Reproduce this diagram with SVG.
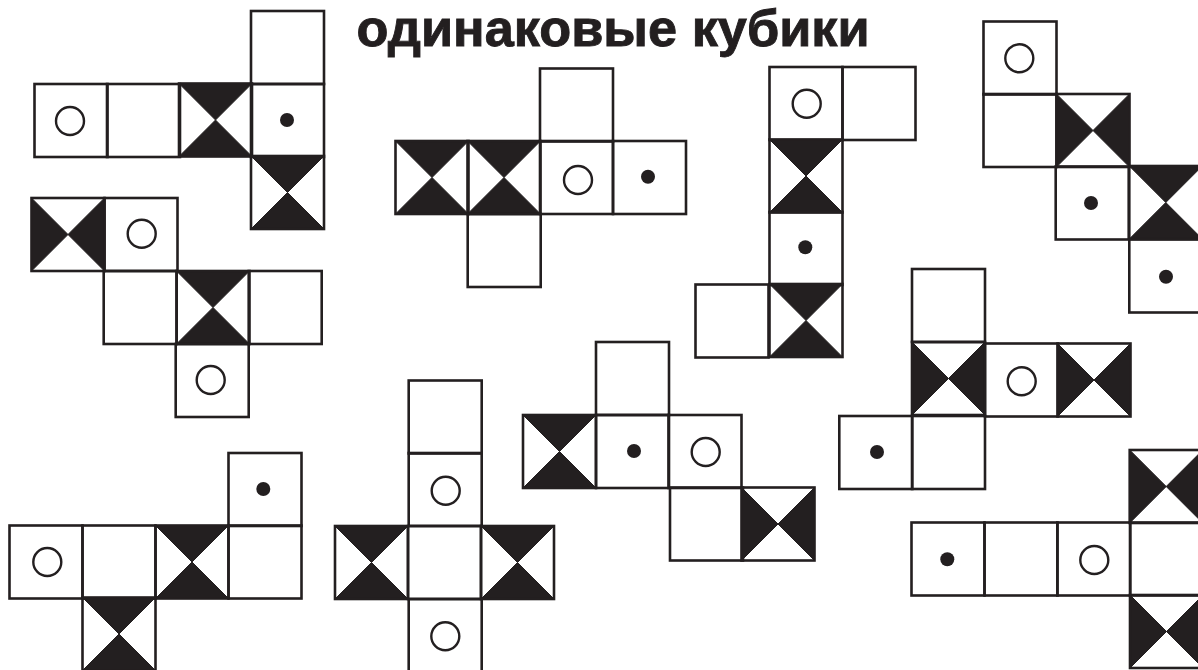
<svg xmlns="http://www.w3.org/2000/svg" xmlns:xlink="http://www.w3.org/1999/xlink" width="1198" height="670" viewBox="0 0 1198 670">
<style>
.c{fill:none;stroke:#231f20;stroke-width:2.6}
.t{fill:#231f20;stroke:#231f20;stroke-width:1}
.o{fill:none;stroke:#231f20;stroke-width:2.4}
.d{fill:#231f20}
.title{font-family:"Liberation Sans",Arial,sans-serif;font-weight:700;font-size:52.3px;fill:#231f20;stroke:#231f20;stroke-width:.9}
</style>
<defs>
<rect id="b" class="c" width="73" height="73"/>
<g id="tb"><path class="t" d="M0 0H73L36.5 36.5ZM0 73H73L36.5 36.5Z"/><rect class="c" width="73" height="73"/></g>
<g id="lr"><path class="t" d="M0 0V73L36.5 36.5ZM73 0V73L36.5 36.5Z"/><rect class="c" width="73" height="73"/></g>
</defs>
<rect width="1198" height="670" fill="#fff"/>
<text class="title" x="356.5" y="46">одинаковые кубики</text>
<g id="net1">
<use href="#b" x="34.5" y="84"/><circle class="o" cx="70" cy="121" r="14"/>
<use href="#b" x="107" y="84"/>
<use href="#tb" x="179" y="83.5"/>
<use href="#b" x="251" y="11"/>
<use href="#b" x="251" y="84"/><circle class="d" cx="287" cy="120" r="7"/>
<use href="#tb" x="251" y="156"/>
</g>
<g id="net2">
<use href="#lr" x="31.5" y="198"/>
<use href="#b" x="104.5" y="198"/><circle class="o" cx="141.7" cy="233.7" r="14"/>
<use href="#b" x="103.7" y="271"/>
<use href="#tb" x="176.5" y="271"/>
<use href="#b" x="248.7" y="271"/>
<use href="#b" x="175.7" y="344"/><circle class="o" cx="210.7" cy="380" r="14"/>
</g>
<g id="net3">
<use href="#tb" x="395.5" y="141"/>
<use href="#tb" x="467.5" y="141"/>
<use href="#b" x="540" y="68.5"/>
<use href="#b" x="540" y="141"/><circle class="o" cx="578" cy="180" r="14"/>
<use href="#b" x="613" y="141"/><circle class="d" cx="648" cy="176.7" r="7"/>
<use href="#b" x="467.7" y="214"/>
</g>
<g id="net4">
<use href="#b" x="769.5" y="67"/><circle class="o" cx="806.7" cy="103.7" r="14"/>
<use href="#b" x="842.5" y="67"/>
<use href="#tb" x="769.5" y="139.5"/>
<use href="#b" x="769.5" y="212"/><circle class="d" cx="805.3" cy="247.3" r="7"/>
<use href="#tb" x="769.5" y="284"/>
<use href="#b" x="695.5" y="284.5"/>
</g>
<g id="net5">
<use href="#b" x="983.5" y="21.5"/><circle class="o" cx="1019.3" cy="58.3" r="14"/>
<use href="#b" x="983.5" y="94"/>
<use href="#lr" x="1056.5" y="94"/>
<use href="#b" x="1055.7" y="166.5"/><circle class="d" cx="1091" cy="203" r="7"/>
<use href="#tb" x="1129.3" y="166"/>
<use href="#b" x="1129.3" y="239.5"/><circle class="d" cx="1166" cy="276.7" r="7"/>
</g>
<g id="net6">
<use href="#b" x="912" y="269"/>
<use href="#lr" x="912" y="342"/>
<use href="#b" x="985" y="343.5"/><circle class="o" cx="1021.7" cy="381.3" r="14"/>
<use href="#lr" x="1057.5" y="343.5"/>
<use href="#b" x="839.3" y="416"/><circle class="d" cx="877" cy="452" r="7"/>
<use href="#b" x="912" y="416"/>
</g>
<g id="net7">
<use href="#tb" x="523" y="415"/>
<use href="#b" x="596" y="342"/>
<use href="#b" x="596" y="415"/><circle class="d" cx="634" cy="451" r="7"/>
<use href="#b" x="668.5" y="415"/><circle class="o" cx="705.7" cy="452" r="14"/>
<use href="#b" x="670" y="487.5"/>
<use href="#lr" x="741.5" y="487.5"/>
</g>
<g id="net8">
<use href="#b" x="9.5" y="525.5"/><circle class="o" cx="47.3" cy="562" r="14"/>
<use href="#b" x="82.5" y="525.5"/>
<use href="#tb" x="155.5" y="525.5"/>
<use href="#b" x="228.5" y="525.5"/>
<use href="#b" x="228.5" y="453"/><circle class="d" cx="263.3" cy="489" r="7"/>
<use href="#tb" x="82.5" y="597.5"/>
</g>
<g id="net9">
<use href="#b" x="408.7" y="380.5"/>
<use href="#b" x="408.7" y="453"/><circle class="o" cx="445.7" cy="490.7" r="14"/>
<use href="#tb" x="335" y="526"/>
<use href="#b" x="408" y="526"/>
<use href="#tb" x="481" y="526"/>
<use href="#b" x="408.7" y="599"/><circle class="o" cx="445.3" cy="636.3" r="14"/>
</g>
<g id="net10">
<use href="#lr" x="1129.7" y="450"/>
<use href="#b" x="911.5" y="522.5"/><circle class="d" cx="947.3" cy="559.3" r="7"/>
<use href="#b" x="984.5" y="522.5"/>
<use href="#b" x="1057.3" y="522.5"/><circle class="o" cx="1094.3" cy="560" r="14"/>
<use href="#b" x="1130" y="522.5"/>
<use href="#lr" x="1130" y="595"/>
</g>
</svg>
